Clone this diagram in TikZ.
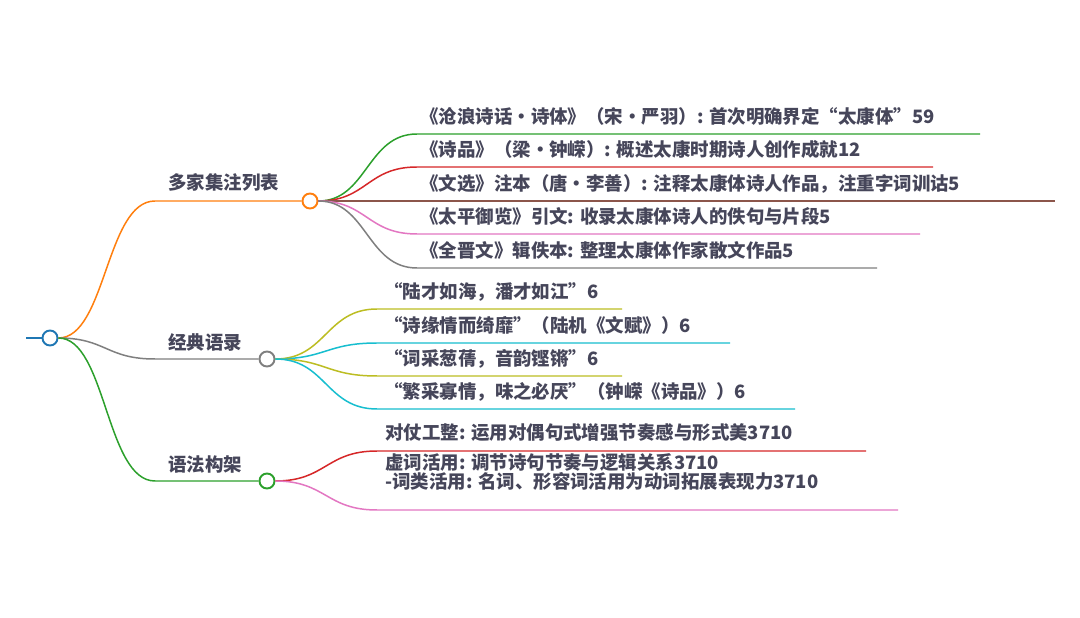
\documentclass[tikz,border=0pt]{standalone}
\usepackage{fontspec}
\usepackage{xcolor}
\usepackage{tikz}
\newfontfamily\cjk{Noto Sans CJK SC}
\definecolor{mmblue}{HTML}{1F77B4}
\definecolor{mmorange}{HTML}{FF7F0E}
\definecolor{mmgreen}{HTML}{2CA02C}
\definecolor{mmred}{HTML}{D62728}
\definecolor{mmbrown}{HTML}{8C564B}
\definecolor{mmpink}{HTML}{E377C2}
\definecolor{mmgray}{HTML}{7F7F7F}
\definecolor{mmolive}{HTML}{BCBD22}
\definecolor{mmcyan}{HTML}{17BECF}
\definecolor{mmink}{HTML}{46465A}

\tikzset{
  mmtext/.style={anchor=base west, inner sep=0pt, text=mmink,
    font=\cjk\bfseries\fontsize{10.5}{11}\selectfont},
  mmdot/.style={circle, draw=#1, fill=white, line width=1.1pt,
    minimum size=0.3cm, inner sep=0pt},
  mmlink/.style={draw=#1, line width=0.85pt}
}

\begin{document}
\begin{tikzpicture}[x=0.02cm, y=-0.02cm]
    \fill[white] (0,0) rectangle (1080,618);
    \useasboundingbox (0,0) rectangle (1080,618);

    \node[mmdot=mmblue] (root) at (50,338) {};
    \coordinate (rootin) at (26,338);

    \node[mmdot=mmorange] (jizhu) at (310,201) {};
    \coordinate (jizhuin) at (155,201);
    \node[mmtext] (jizhulbl) at (168,190) {多家集注列表};

    \node[mmdot=mmgray] (yulu) at (267,359) {};
    \coordinate (yuluin) at (155,359);
    \node[mmtext] (yululbl) at (168,350) {经典语录};

    \node[mmdot=mmgreen] (yufa) at (267,481) {};
    \coordinate (yufain) at (155,481);
    \node[mmtext] (yufalbl) at (168,472) {语法构架};

    \draw[mmlink=mmblue] (rootin) -- (root);
    \draw[mmlink=mmorange] (root.east) .. controls (106,338) and (106,201) .. (jizhuin) -- (jizhu);
    \draw[mmlink=mmgray] (root.east) .. controls (106,338) and (106,359) .. (yuluin) -- (yulu);
    \draw[mmlink=mmgreen] (root.east) .. controls (106,338) and (106,481) .. (yufain) -- (yufa);

    \coordinate (jz1) at (417,134); \coordinate (jz1end) at (980,134);
    \coordinate (jz2) at (417,167); \coordinate (jz2end) at (933,167);
    \coordinate (jz3) at (417,201); \coordinate (jz3end) at (1055,201);
    \coordinate (jz4) at (417,234); \coordinate (jz4end) at (920,234);
    \coordinate (jz5) at (417,268); \coordinate (jz5end) at (877,268);
    \node[mmtext] (jz1txt) at (420,124) {《沧浪诗话•诗体》（宋•严羽）: 首次明确界定“太康体”59};
    \node[mmtext] (jz2txt) at (420,157) {《诗品》（梁•钟嵘）: 概述太康时期诗人创作成就12};
    \node[mmtext] (jz3txt) at (420,191) {《文选》注本（唐•李善）: 注释太康体诗人作品，注重字词训诂5};
    \node[mmtext] (jz4txt) at (420,224) {《太平御览》引文: 收录太康体诗人的佚句与片段5};
    \node[mmtext] (jz5txt) at (420,258) {《全晋文》辑佚本: 整理太康体作家散文作品5};
    \draw[mmlink=mmgreen] (jizhu.east) .. controls (367,201) and (367,134) .. (jz1) -- (jz1end);
    \draw[mmlink=mmred]   (jizhu.east) .. controls (367,201) and (367,167) .. (jz2) -- (jz2end);
    \draw[mmlink=mmbrown] (jizhu.east) -- (jz3) -- (jz3end);
    \draw[mmlink=mmpink]  (jizhu.east) .. controls (367,201) and (367,234) .. (jz4) -- (jz4end);
    \draw[mmlink=mmgray]  (jizhu.east) .. controls (367,201) and (367,268) .. (jz5) -- (jz5end);

    \coordinate (yl1) at (377,309); \coordinate (yl1end) at (622,309);
    \coordinate (yl2) at (377,343); \coordinate (yl2end) at (730,343);
    \coordinate (yl3) at (377,376); \coordinate (yl3end) at (622,376);
    \coordinate (yl4) at (377,409); \coordinate (yl4end) at (795,409);
    \node[mmtext] (yl1txt) at (384,299) {“陆才如海，潘才如江”6};
    \node[mmtext] (yl2txt) at (384,333) {“诗缘情而绮靡”（陆机《文赋》）6};
    \node[mmtext] (yl3txt) at (384,366) {“词采葱蒨，音韵铿锵”6};
    \node[mmtext] (yl4txt) at (384,399) {“繁采寡情，味之必厌”（钟嵘《诗品》）6};
    \draw[mmlink=mmolive] (yulu.east) .. controls (326,359) and (326,309) .. (yl1) -- (yl1end);
    \draw[mmlink=mmcyan]  (yulu.east) .. controls (326,359) and (326,343) .. (yl2) -- (yl2end);
    \draw[mmlink=mmolive] (yulu.east) .. controls (326,359) and (326,376) .. (yl3) -- (yl3end);
    \draw[mmlink=mmcyan]  (yulu.east) .. controls (326,359) and (326,409) .. (yl4) -- (yl4end);

    \coordinate (yf1) at (377,451); \coordinate (yf1end) at (866,451);
    \coordinate (yf2) at (377,510); \coordinate (yf2end) at (898,510);
    \node[mmtext] (yf1txt) at (385,440) {对仗工整: 运用对偶句式增强节奏感与形式美3710};
    \node[mmtext, align=left] (yf2txt) at (385,489)
      {虚词活用: 调节诗句节奏与逻辑关系3710\\-词类活用: 名词、形容词活用为动词拓展表现力3710};
    \draw[mmlink=mmred]  (yufa.east) .. controls (326,481) and (326,451) .. (yf1) -- (yf1end);
    \draw[mmlink=mmpink] (yufa.east) .. controls (326,481) and (326,510) .. (yf2) -- (yf2end);
  \end{tikzpicture}
\end{document}
